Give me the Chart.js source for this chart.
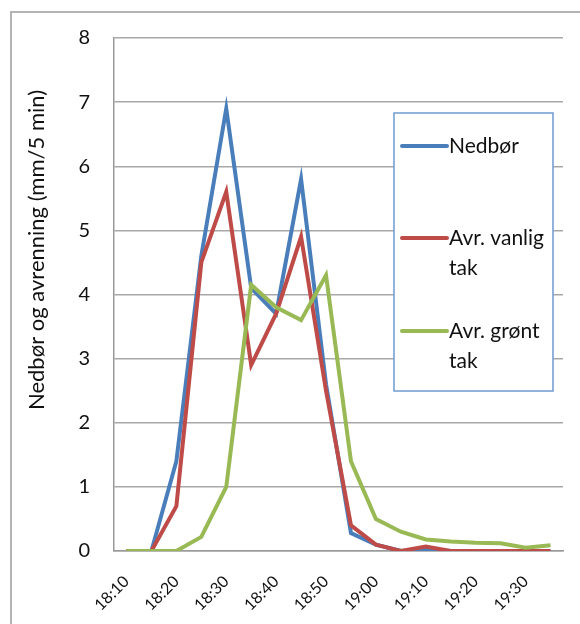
<!DOCTYPE html>
<html>
<head>
<meta charset="utf-8">
<script src="https://cdn.jsdelivr.net/npm/chart.js@4/dist/chart.umd.min.js"></script>
<style>
  html, body { margin: 0; padding: 0; background: #fff; }
  #wrap { position: relative; width: 580px; height: 624px; }
</style>
</head>
<body>
<div id="wrap"><canvas id="c" width="580" height="624"></canvas></div>
<script>
const categories = ["18:10","18:15","18:20","18:25","18:30","18:35","18:40","18:45","18:50","18:55",
                    "19:00","19:05","19:10","19:15","19:20","19:25","19:30","19:35"];
const nedbor = [0,0,1.4,4.6,6.9,4.1,3.7,5.8,2.6,0.28,0.1,0,0.02,0,0,0,0,0];
const avrVanligTak = [0,0,0.7,4.5,5.6,2.9,3.7,4.9,2.5,0.4,0.1,0,0.07,0,0,0,0,0];
const avrGrontTak = [0,0,0,0.22,1.0,4.15,3.8,3.6,4.3,1.4,0.5,0.3,0.18,0.15,0.13,0.12,0.05,0.09];
const seriesNames = ["Nedbør", "Avr. vanlig tak", "Avr. grønt tak"];
const legendLines = [["Nedbør"], ["Avr. vanlig", "tak"], ["Avr. grønt", "tak"]];
const yTitle = "Nedbør og avrenning (mm/5 min)";
const colors = ["#4A7EBB", "#BE4B48", "#98B954"];

const FONT = "Lato, 'Open Sans', sans-serif";

const framePlugin = {
  id: 'frame',
  beforeDraw(chart) {
    const ctx = chart.ctx;
    ctx.save();
    ctx.strokeStyle = '#b4b4b4';
    ctx.lineWidth = 2;
    ctx.beginPath();
    ctx.moveTo(11, 624);
    ctx.lineTo(11, 12);
    ctx.lineTo(580, 12);
    ctx.stroke();
    ctx.restore();
  },
  afterDraw(chart) {
    const ctx = chart.ctx;
    const a = chart.chartArea;
    // y-axis title
    ctx.save();
    ctx.fillStyle = '#111';
    ctx.font = "22px " + FONT;
    ctx.textAlign = 'center';
    ctx.textBaseline = 'middle';
    ctx.translate(37, a.top + 212);
    ctx.rotate(-Math.PI / 2);
    ctx.fillText(yTitle, 0, 0);
    ctx.restore();

    // legend box
    const lx = a.left + 280, ly = a.top + 75, lw = 159, lh = 278;
    ctx.save();
    ctx.fillStyle = '#ffffff';
    ctx.fillRect(lx, ly, lw, lh);
    ctx.strokeStyle = '#6F9AD0';
    ctx.lineWidth = 1.5;
    ctx.strokeRect(lx, ly, lw, lh);
    const rowY = [ly + 33, ly + 125, ly + 218];
    ctx.font = "21px " + FONT;
    ctx.textBaseline = 'middle';
    ctx.textAlign = 'left';
    legendLines.forEach((lines, i) => {
      ctx.strokeStyle = colors[i];
      ctx.lineWidth = 4;
      ctx.lineCap = 'round';
      ctx.beginPath();
      ctx.moveTo(lx + 8, rowY[i]);
      ctx.lineTo(lx + 53, rowY[i]);
      ctx.stroke();
      ctx.fillStyle = '#111';
      lines.forEach((t, j) => ctx.fillText(t, lx + 55, rowY[i] + j * 30));
    });
    ctx.restore();
  }
};

new Chart(document.getElementById('c'), {
  type: 'line',
  data: {
    labels: categories,
    datasets: [
      { label: seriesNames[0], data: nedbor, borderColor: colors[0], backgroundColor: colors[0], order: 2 },
      { label: seriesNames[1], data: avrVanligTak, borderColor: colors[1], backgroundColor: colors[1], order: 1 },
      { label: seriesNames[2], data: avrGrontTak, borderColor: colors[2], backgroundColor: colors[2], order: 0 }
    ]
  },
  options: {
    responsive: false,
    animation: false,
    devicePixelRatio: 1,
    layout: { padding: { top: 38, right: 17, left: 0, bottom: 0 } },
    elements: {
      line: { borderWidth: 4, tension: 0, fill: false },
      point: { radius: 0, hoverRadius: 0 }
    },
    plugins: {
      legend: { display: false },
      tooltip: { enabled: false },
      title: { display: false }
    },
    scales: {
      x: {
        offset: true,
        grid: { display: false },
        border: { display: true, color: '#9a9a9a', width: 1.5 },
        ticks: {
          autoSkip: false,
          maxRotation: 45,
          minRotation: 45,
          padding: 13,
          color: '#111',
          font: { family: FONT, size: 16 },
          callback: function(v, i) { return i % 2 === 0 ? categories[i] : ''; }
        },
        afterFit(scale) { scale.height = 73; }
      },
      y: {
        min: 0,
        max: 8,
        grid: { color: '#a8a8a8', lineWidth: 1.5, drawTicks: false },
        border: { display: true, color: '#9a9a9a', width: 1.5 },
        ticks: {
          stepSize: 1,
          padding: 24,
          color: '#111',
          font: { family: FONT, size: 20 }
        },
        afterFit(scale) { scale.width = 114; }
      }
    }
  },
  plugins: [framePlugin]
});
</script>
</body>
</html>
